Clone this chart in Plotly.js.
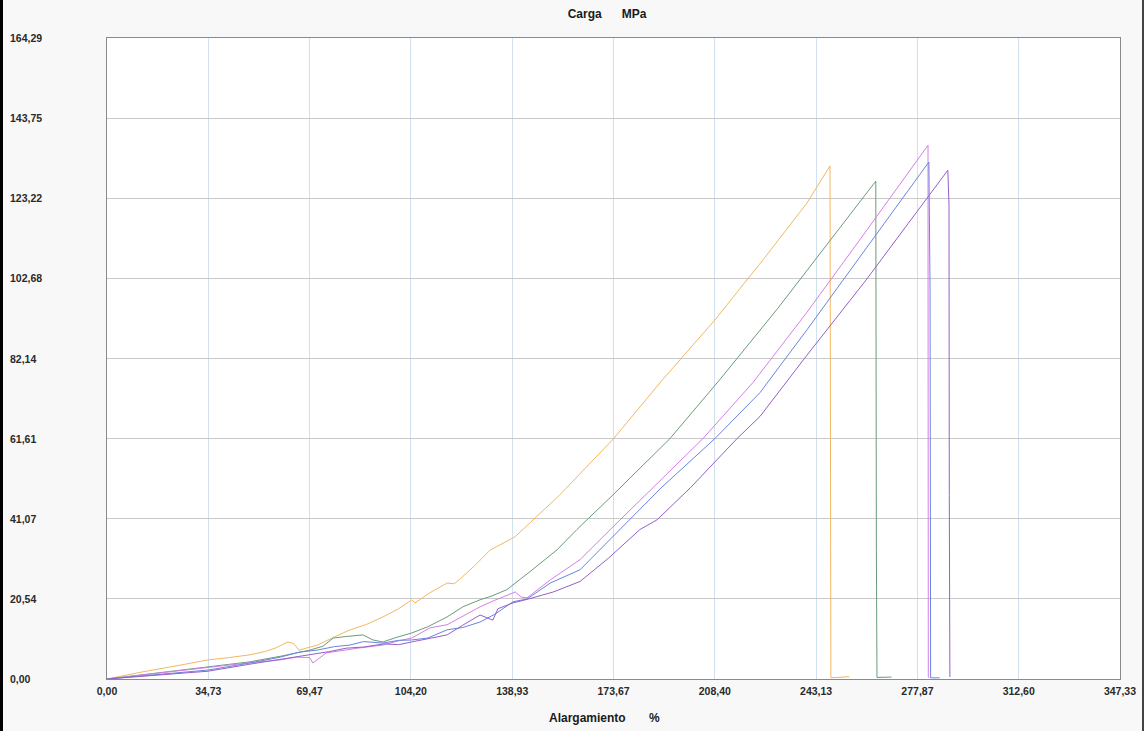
<!DOCTYPE html>
<html>
<head>
<meta charset="utf-8">
<script src="https://cdn.plot.ly/plotly-3.0.1.min.js"></script>
<style>
  html, body { margin: 0; padding: 0; background: #f8f8f8; }
  #chart { width: 1144px; height: 731px; }
  #edgeL { position: absolute; left: 0; top: 0; width: 3px; height: 731px; background: #000; }
  #edgeR { position: absolute; left: 1142px; top: 0; width: 2px; height: 731px; background: #444; }
</style>
</head>
<body>
<div id="chart"></div>
<div id="edgeL"></div>
<div id="edgeR"></div>
<script>
// ---- data (Alargamiento %, Carga MPa) ----
const chartTitle = "Carga\u00a0\u00a0\u00a0\u00a0\u00a0\u00a0MPa";
const xTitle = "Alargamiento\u00a0\u00a0\u00a0\u00a0\u00a0\u00a0\u00a0%";
const xTickVals = [0, 34.73, 69.47, 104.20, 138.93, 173.67, 208.40, 243.13, 277.87, 312.60, 347.33];
const xTickText = ["0,00", "34,73", "69,47", "104,20", "138,93", "173,67", "208,40", "243,13", "277,87", "312,60", "347,33"];
const yTickVals = [0, 20.54, 41.07, 61.61, 82.14, 102.68, 123.22, 143.75, 164.29];
const yTickText = ["0,00", "20,54", "41,07", "61,61", "82,14", "102,68", "123,22", "143,75", "164,29"];

const s1x = [0, 12.0, 24.0, 34.7, 42.0, 49.0, 54.0, 58.0, 62.0, 64.0, 65.8, 72.2, 78.0, 83.3, 89.0, 94.6, 100.0, 104.5, 105.6, 110.7, 116.6, 119.0, 121.0, 126.0, 131.3, 140.0, 155.0, 173.7, 190.6, 208.4, 225.0, 240.0, 247.9, 248.0, 248.2, 254.5];
const s1y = [0, 1.8, 3.4, 4.9, 5.5, 6.2, 7.0, 8.0, 9.5, 9.1, 7.4, 8.7, 10.8, 12.6, 14.0, 15.9, 18.0, 20.3, 19.5, 22.1, 24.6, 24.4, 25.6, 29.0, 33.0, 36.5, 47.0, 61.6, 76.8, 92.0, 107.5, 122.0, 131.5, 33.0, 0.3, 0.6];

const s2x = [0, 34.7, 49.0, 60.0, 69.5, 74.0, 77.6, 82.0, 87.8, 91.2, 94.6, 99.0, 104.5, 110.0, 116.6, 122.0, 127.9, 132.0, 137.1, 145.0, 154.3, 161.1, 173.5, 193.0, 210.2, 230.0, 250.0, 263.6, 263.8, 264.0, 269.0];
const s2y = [0, 3.1, 4.4, 5.9, 7.4, 8.4, 10.5, 10.9, 11.3, 10.0, 9.5, 10.6, 11.8, 13.4, 15.9, 18.5, 20.3, 21.3, 22.9, 27.5, 33.1, 38.3, 47.2, 61.6, 76.8, 95.0, 114.5, 127.6, 33.0, 0.4, 0.5];

const s3x = [0, 34.7, 48.0, 59.4, 65.0, 69.5, 70.6, 75.2, 80.0, 86.0, 94.6, 100.0, 104.5, 110.7, 116.6, 122.0, 127.9, 133.0, 138.0, 140.0, 142.0, 144.0, 152.0, 162.2, 173.5, 190.0, 204.3, 221.5, 240.0, 260.0, 281.5, 281.6, 282.0];
const s3y = [0, 3.1, 4.1, 4.9, 5.6, 5.5, 4.1, 6.7, 7.3, 7.9, 8.7, 9.8, 10.5, 13.1, 13.9, 16.2, 18.5, 20.2, 21.6, 22.3, 21.0, 20.8, 25.4, 30.6, 39.0, 51.0, 61.6, 76.0, 94.0, 114.5, 136.8, 0.5, 0.4];

const s4x = [0, 34.7, 49.0, 59.4, 66.0, 72.0, 78.0, 83.3, 88.0, 94.6, 100.0, 104.5, 110.0, 116.6, 122.0, 127.9, 133.0, 139.2, 144.0, 152.0, 162.2, 176.9, 190.0, 208.4, 223.9, 240.0, 260.0, 281.8, 282.2, 282.4, 285.5];
const s4y = [0, 2.3, 4.1, 5.6, 6.9, 7.4, 8.3, 8.7, 9.6, 9.2, 9.9, 10.0, 10.5, 12.6, 13.2, 14.6, 16.6, 19.8, 20.5, 24.6, 28.0, 39.0, 49.0, 61.6, 73.4, 89.5, 110.0, 132.5, 100.0, 0.3, 0.3];

const s5x = [0, 34.7, 49.0, 65.0, 76.0, 82.0, 88.0, 95.0, 100.0, 104.5, 110.0, 116.6, 122.0, 127.9, 132.3, 134.0, 139.2, 144.0, 153.0, 162.2, 172.0, 182.7, 188.6, 200.0, 216.0, 223.9, 240.0, 260.0, 288.3, 288.7, 288.8, 289.0];
const s5y = [0, 2.0, 3.8, 5.6, 7.0, 7.9, 8.2, 9.0, 8.8, 9.5, 10.3, 11.3, 13.8, 16.4, 15.1, 18.0, 19.5, 20.4, 22.3, 25.0, 31.0, 38.3, 40.8, 49.0, 61.6, 67.3, 83.0, 102.0, 130.4, 121.7, 47.0, 0.5];

const seriesX = [s1x, s2x, s3x, s4x, s5x];
const seriesY = [s1y, s2y, s3y, s4y, s5y];
const seriesColors = ["#f2b862", "#6a9c78", "#d67ee8", "#6a84de", "#9560c8"];

const traces = seriesX.map((xs, i) => ({
  x: xs, y: seriesY[i], type: "scatter", mode: "lines",
  line: { color: seriesColors[i], width: 1 },
  hoverinfo: "skip", showlegend: false
}));

const fontFam = "Liberation Sans, Arial, sans-serif";
const plotL = 107, plotR = 24, plotT = 38, plotB = 52, W = 1144, H = 731;
const plotW = W - plotL - plotR;
const plotH = H - plotT - plotB;

const yAnn = yTickVals.map((v, i) => ({
  xref: "paper", yref: "y", x: (8 - plotL) / plotW, y: v,
  xanchor: "left", yanchor: "middle", showarrow: false,
  text: "<b>" + yTickText[i] + "</b>",
  font: { family: fontFam, size: 10.5, color: "#2a2a2a" }
}));

const xTitleAnn = {
  xref: "paper", yref: "paper", x: (604 - plotL) / plotW, y: -(718 - (H - plotB)) / plotH,
  xanchor: "center", yanchor: "middle", showarrow: false,
  text: "<b>" + xTitle + "</b>",
  font: { family: fontFam, size: 12, color: "#1a1a1a" }
};

const layout = {
  width: W, height: H,
  margin: { l: plotL, r: plotR, t: plotT, b: plotB },
  paper_bgcolor: "#f8f8f8", plot_bgcolor: "#ffffff",
  title: {
    text: "<b>" + chartTitle + "</b>",
    font: { family: fontFam, size: 12, color: "#1a1a1a" },
    x: 607 / W, xanchor: "center", xref: "container",
    y: 1 - 14 / H, yref: "container", yanchor: "middle"
  },
  xaxis: {
    range: [0, 347.33], tickvals: xTickVals, ticktext: xTickText.map(t => "<b>" + t + "</b>"),
    ticks: "", showgrid: true, gridcolor: "#d3e0ee", gridwidth: 1, zeroline: false,
    showline: true, linecolor: "#8a8a8a", linewidth: 1, mirror: true,
    tickfont: { family: fontFam, size: 10.5, color: "#2a2a2a" },
    ticklabelstandoff: 2
  },
  yaxis: {
    range: [0, 164.29], tickvals: yTickVals, showticklabels: false,
    ticks: "", showgrid: true, gridcolor: "#c9c9c9", gridwidth: 1, zeroline: false,
    showline: true, linecolor: "#8a8a8a", linewidth: 1, mirror: true
  },
  annotations: yAnn.concat([xTitleAnn])
};

Plotly.newPlot("chart", traces, layout, { staticPlot: true, displayModeBar: false });
</script>
</body>
</html>
